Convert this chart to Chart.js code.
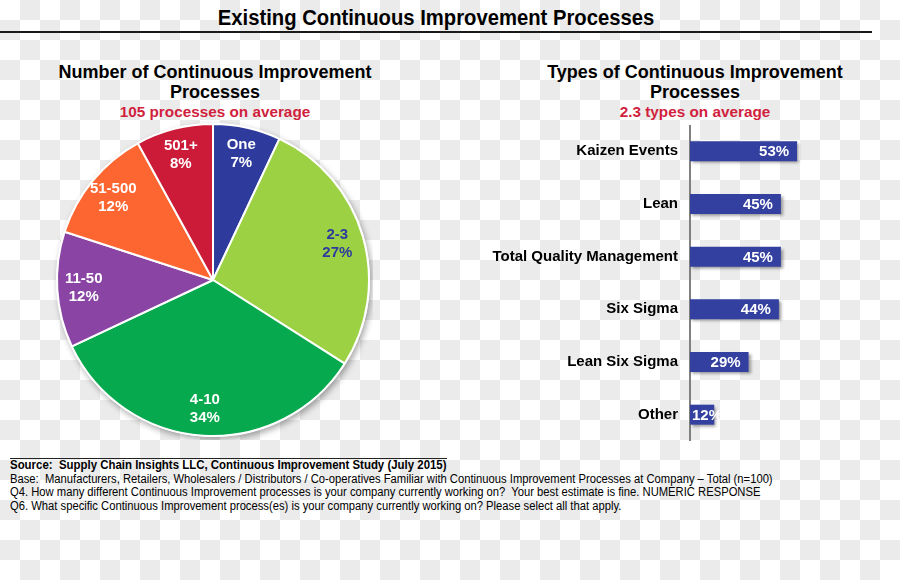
<!DOCTYPE html>
<html>
<head>
<meta charset="utf-8">
<script src="https://cdn.jsdelivr.net/npm/chart.js@4"></script>
<style>
  html, body { margin: 0; padding: 0; }
  body {
    width: 900px; height: 580px; position: relative; overflow: hidden;
    background: repeating-conic-gradient(#ebebeb 0 25%, #ffffff 0 50%) 0 0 / 40px 40px;
    font-family: "Liberation Sans", Arial, sans-serif;
  }
  .t { position: absolute; white-space: nowrap; color: #000; }
  .main { left: 0; width: 872px; top: 5px; text-align: center; font-weight: bold; font-size: 22px; transform: scaleX(0.92); transform-origin: 436px 0; }
  .rule { position: absolute; left: 0; top: 31px; width: 872px; height: 2px; background: #1a1a1a; }
  .sub { font-weight: bold; font-size: 18px; text-align: center; line-height: 20px; }
  .avg { font-weight: bold; font-size: 15.3px; color: #d11f3e; text-align: center; }
  .foot { left: 10px; font-size: 12.3px; line-height: 13.5px; transform: scaleX(0.913); transform-origin: 0 0; }
  .foot.src { font-weight: bold; transform: scaleX(0.93); }
  .footrule { position: absolute; left: 10px; top: 458px; width: 437px; height: 1px; background: #222; }
  canvas { position: absolute; }
</style>
</head>
<body>
<div class="t main">Existing Continuous Improvement Processes</div>
<div class="rule"></div>

<div class="t sub" style="left:15px;width:400px;top:62px;">Number of Continuous Improvement<br>Processes</div>
<div class="t avg" style="left:15px;width:400px;top:103px;">105 processes on average</div>

<div class="t sub" style="left:495px;width:400px;top:62px;">Types of Continuous Improvement<br>Processes</div>
<div class="t avg" style="left:495px;width:400px;top:103px;">2.3 types on average</div>

<canvas id="pie" width="320" height="320" style="left:53px;top:120px;"></canvas>
<canvas id="bars" width="420" height="316" style="left:480px;top:125px;"></canvas>

<div class="footrule"></div>
<div class="t foot src" style="top:459px;">Source:&nbsp; Supply Chain Insights LLC, Continuous Improvement Study (July 2015)</div>
<div class="t foot" style="top:472.5px;">Base:&nbsp; Manufacturers, Retailers, Wholesalers / Distributors / Co-operatives Familiar with Continuous Improvement Processes at Company – Total (n=100)<br>Q4. How many different Continuous Improvement processes is your company currently working on?&nbsp; Your best estimate is fine. NUMERIC RESPONSE<br>Q6. What specific Continuous Improvement process(es) is your company currently working on? Please select all that apply.</div>

<script>
const FONT = "'Liberation Sans', Arial, sans-serif"

// pie: number of processes
const countLabels = ["One", "2-3", "4-10", "11-50", "51-500", "501+"]
const countValues = [7, 27, 34, 12, 12, 8]
const countColors = ["#2e3b9c", "#9bd143", "#06a94d", "#8a45a4", "#fd6631", "#cc1b38"]
const countTextColors = ["#fff", "#2e3b9c", "#fff", "#fff", "#fff", "#fff"]

// bars: types of processes
const typeLabels = ["Kaizen Events", "Lean", "Total Quality Management", "Six Sigma", "Lean Six Sigma", "Other"]
const typeValues = [53, 45, 45, 44, 29, 12]

const pieShadow = {
  id: "pieShadow",
  beforeDatasetsDraw(chart) {
    const arc = chart.getDatasetMeta(0).data[0]
    if (!arc) return
    const ctx = chart.ctx
    ctx.save()
    ctx.shadowColor = "rgba(0, 0, 0, 0.35)"
    ctx.shadowBlur = 6
    ctx.shadowOffsetX = 2
    ctx.shadowOffsetY = 3
    ctx.fillStyle = "#fff"
    ctx.beginPath()
    ctx.arc(arc.x, arc.y, arc.outerRadius + 1, 0, Math.PI * 2)
    ctx.fill()
    ctx.restore()
  }
}

const pieLabels = {
  id: "pieLabels",
  afterDatasetsDraw(chart) {
    const ctx = chart.ctx
    ctx.save()
    ctx.font = `bold 15px ${FONT}`
    ctx.textAlign = "center"
    ctx.textBaseline = "middle"
    chart.getDatasetMeta(0).data.forEach((arc, i) => {
      const mid = (arc.startAngle + arc.endAngle) / 2
      const r = arc.outerRadius * 0.83
      const x = arc.x + Math.cos(mid) * r
      const y = arc.y + Math.sin(mid) * r
      ctx.fillStyle = countTextColors[i]
      ctx.fillText(countLabels[i], x, y - 9)
      ctx.fillText(countValues[i] + "%", x, y + 9)
    })
    ctx.restore()
  }
}

new Chart(document.getElementById("pie").getContext("2d"), {
  type: "pie",
  data: {
    labels: countLabels,
    datasets: [{ data: countValues, backgroundColor: countColors, borderColor: "#fff", borderWidth: 2 }]
  },
  options: {
    responsive: false,
    animation: false,
    layout: { padding: 3 },
    plugins: { legend: { display: false }, tooltip: { enabled: false } }
  },
  plugins: [pieShadow, pieLabels]
})

const barShadow = {
  id: "barShadow",
  beforeDatasetsDraw(chart) {
    const ctx = chart.ctx
    ctx.save()
    ctx.shadowColor = "rgba(0, 0, 0, 0.4)"
    ctx.shadowBlur = 3
    ctx.shadowOffsetX = 2
    ctx.shadowOffsetY = 2
  },
  afterDatasetsDraw(chart) {
    chart.ctx.restore()
  }
}

const barLabels = {
  id: "barLabels",
  afterDatasetsDraw(chart) {
    const ctx = chart.ctx
    ctx.save()
    ctx.font = `bold 15px ${FONT}`
    ctx.fillStyle = "#fff"
    ctx.textBaseline = "middle"
    chart.getDatasetMeta(0).data.forEach((bar, i) => {
      const text = typeValues[i] + "%"
      const w = ctx.measureText(text).width
      if (bar.x - 8 - w >= bar.base + 3) {
        ctx.textAlign = "right"
        ctx.fillText(text, bar.x - 8, bar.y + 1)
      } else {
        ctx.textAlign = "left"
        ctx.fillText(text, bar.base + 2, bar.y + 1)
      }
    })
    ctx.restore()
  }
}

new Chart(document.getElementById("bars").getContext("2d"), {
  type: "bar",
  data: {
    labels: typeLabels,
    datasets: [{ data: typeValues, backgroundColor: "#3340a0", barPercentage: 0.38, categoryPercentage: 1 }]
  },
  options: {
    indexAxis: "y",
    responsive: false,
    animation: false,
    layout: { padding: { top: 0, bottom: 0, left: 0, right: 8 } },
    plugins: { legend: { display: false }, tooltip: { enabled: false } },
    scales: {
      x: { display: false, min: 0, max: 100 },
      y: {
        afterFit: (scale) => {
          scale.width = 210
          scale.paddingTop = 0
          scale.paddingBottom = 0
        },
        grid: { display: false, drawTicks: false },
        border: { display: true, color: "#808080", width: 2 },
        ticks: { color: "#000", padding: 12, font: { family: FONT, size: 15, weight: "bold" } }
      }
    }
  },
  plugins: [barShadow, barLabels]
})
</script>
</body>
</html>
